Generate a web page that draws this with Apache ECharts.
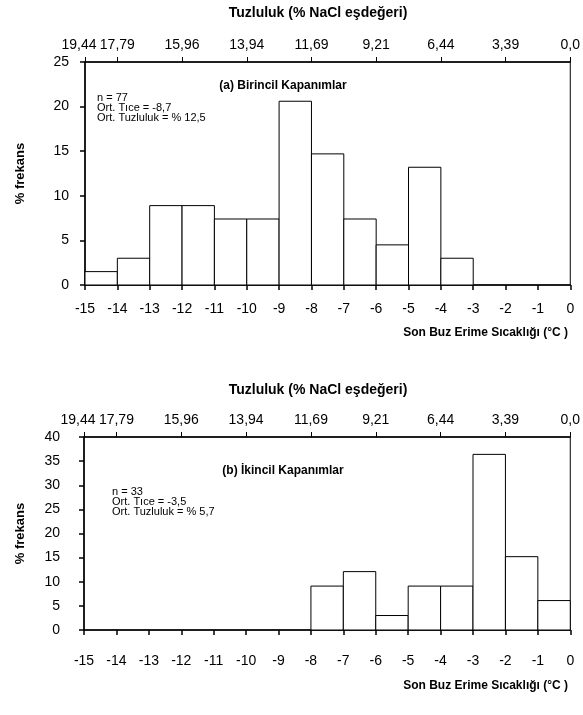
<!DOCTYPE html>
<html>
<head>
<meta charset="utf-8">
<title>Son buz erime sıcaklığı histogramları</title>
<script src="https://cdn.jsdelivr.net/npm/echarts@6/dist/echarts.min.js"></script>
<style>
  html, body { margin: 0; padding: 0; background: #fff; }
  #main { width: 583px; height: 715px; }
</style>
</head>
<body>
<div id="main"></div>
<script>
// sınıf sınırları (Tm ice, °C)
var binEdges = [-15, -14, -13, -12, -11, -10, -9, -8, -7, -6, -5, -4, -3, -2, -1, 0];
// (a) Birincil kapanımlar, % frekans
var freqA = [1.5, 3.0, 8.9, 8.9, 7.4, 7.4, 20.6, 14.7, 7.4, 4.5, 13.2, 3.0, 0, 0, 0];
// (b) İkincil kapanımlar, % frekans
var freqB = [0, 0, 0, 0, 0, 0, 0, 9.1, 12.1, 3.0, 9.1, 9.1, 36.4, 15.2, 6.1];
// üst eksen: tuzluluk
var salinityTicks = [-15, -14, -12, -10, -8, -6, -4, -2, 0];
var salinityLabels = ['19,44', '17,79', '15,96', '13,94', '11,69', '9,21', '6,44', '3,39', '0,0'];

var font = 'Liberation Sans, Arial, sans-serif';

function toBins(freq) {
    let out = [];
    freq.forEach(function (v, i) {
        if (v > 0) out.push([binEdges[i], binEdges[i + 1], v]);
    });
    return out;
}

// her sınıfı eksenin ölçeğiyle dikdörtgen olarak çiz
function renderBin(params, api) {
    let p0 = api.coord([api.value(0), api.value(2)]);
    let p1 = api.coord([api.value(1), 0]);
    return {
        type: 'rect',
        shape: { x: p0[0], y: p0[1], width: p1[0] - p0[0], height: p1[1] - p0[1] },
        style: { fill: '#fff', stroke: '#000', lineWidth: 1 }
    };
}

function bottomAxis(gridIndex, margin) {
    return {
        type: 'value', gridIndex: gridIndex, position: 'bottom',
        min: -15, max: 0, interval: 1,
        axisLine: { onZero: false, lineStyle: { color: '#000', width: 1.5 } },
        axisTick: { inside: false, length: 5, lineStyle: { color: '#000', width: 1.5 } },
        axisLabel: { color: '#000', fontFamily: font, fontSize: 14, margin: margin },
        splitLine: { show: false }
    };
}

function topAxis(gridIndex) {
    return {
        type: 'value', gridIndex: gridIndex, position: 'top',
        min: -15, max: 0,
        axisLine: { onZero: false, lineStyle: { color: '#000', width: 1.5 } },
        axisTick: { length: 5, customValues: salinityTicks, lineStyle: { color: '#000', width: 1 } },
        axisLabel: {
            color: '#000', fontFamily: font, fontSize: 14, margin: 10,
            customValues: salinityTicks,
            formatter: function (v) {
                let i = salinityTicks.indexOf(v);
                if (i < 0) return '';
                // ilk etiket biraz sola kayık
                return i === 0 ? '{first|' + salinityLabels[i] + '}' : salinityLabels[i];
            },
            rich: {
                first: { fontFamily: font, fontSize: 14, color: '#000', padding: [0, 12, 0, 0] }
            }
        },
        splitLine: { show: false }
    };
}

function leftAxis(gridIndex, max, margin, nameGap) {
    return {
        type: 'value', gridIndex: gridIndex,
        min: 0, max: max, interval: 5,
        name: '% frekans', nameLocation: 'middle', nameGap: nameGap,
        nameTextStyle: { color: '#000', fontFamily: font, fontSize: 13, fontWeight: 'bold' },
        axisLine: { show: true, onZero: false, lineStyle: { color: '#000', width: 1.5 } },
        axisTick: { show: true, length: 5, lineStyle: { color: '#000', width: 1.5 } },
        axisLabel: { color: '#000', fontFamily: font, fontSize: 14, margin: margin },
        splitLine: { show: false }
    };
}

function label(x, y, text, opts) {
    return {
        type: 'text', x: x, y: y,
        style: Object.assign({
            text: text, fill: '#000', font: '11px ' + font,
            textAlign: 'left', textVerticalAlign: 'middle'
        }, opts || {})
    };
}

let myChart = echarts.init(document.getElementById('main'));

let option = {
    backgroundColor: '#fff',
    animation: false,
    grid: [
        { left: 85, right: 10, top: 62, height: 223, show: true, borderColor: '#000', borderWidth: 1 },
        { left: 84, right: 11, top: 437, height: 193, show: true, borderColor: '#000', borderWidth: 1 }
    ],
    xAxis: [
        bottomAxis(0, 17),
        topAxis(0),
        bottomAxis(1, 24),
        topAxis(1)
    ],
    yAxis: [
        leftAxis(0, 25, 16, 58),
        leftAxis(1, 40, 24, 57)
    ],
    graphic: [
        label(318, 13, 'Tuzluluk (% NaCl eşdeğeri)', { font: 'bold 14px ' + font, textAlign: 'center' }),
        label(283, 86, '(a) Birincil Kapanımlar', { font: 'bold 12px ' + font, textAlign: 'center' }),
        label(97, 98, 'n = 77'),
        label(97, 108, 'Ort. Tıce = -8,7'),
        label(97, 118, 'Ort. Tuzluluk = % 12,5'),
        label(568, 333, 'Son Buz Erime Sıcaklığı (°C )', { font: 'bold 12px ' + font, textAlign: 'right' }),

        label(318, 390, 'Tuzluluk (% NaCl eşdeğeri)', { font: 'bold 14px ' + font, textAlign: 'center' }),
        label(283, 471, '(b) İkincil Kapanımlar', { font: 'bold 12px ' + font, textAlign: 'center' }),
        label(112, 492, 'n = 33'),
        label(112, 502, 'Ort. Tıce = -3,5'),
        label(112, 512, 'Ort. Tuzluluk = % 5,7'),
        label(568, 686, 'Son Buz Erime Sıcaklığı (°C )', { font: 'bold 12px ' + font, textAlign: 'right' })
    ],
    series: [
        {
            type: 'custom', xAxisIndex: 0, yAxisIndex: 0,
            renderItem: renderBin,
            encode: { x: [0, 1], y: 2 },
            data: toBins(freqA)
        },
        {
            type: 'custom', xAxisIndex: 2, yAxisIndex: 1,
            renderItem: renderBin,
            encode: { x: [0, 1], y: 2 },
            data: toBins(freqB)
        }
    ]
};

myChart.setOption(option);
</script>
</body>
</html>
